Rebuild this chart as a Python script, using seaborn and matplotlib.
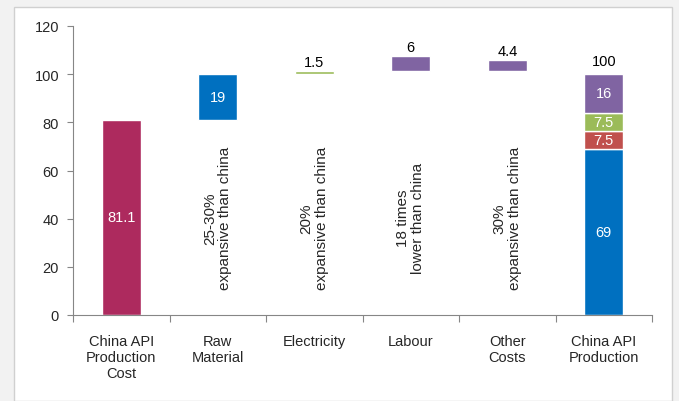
import matplotlib
matplotlib.use("Agg")
import matplotlib.pyplot as plt
import seaborn as sns
from matplotlib.patches import Rectangle

# ---- data ----
categories = ["China API\nProduction\nCost", "Raw\nMaterial", "Electricity",
              "Labour", "Other\nCosts", "China API\nProduction"]
base_value = 81.1
step_values = [19, 1.5, 6, 4.4]
step_bottoms = [81.1, 100, 101.5, 101.5]
step_labels = ["19", "1.5", "6", "4.4"]
notes = ["25-30%\nexpansive than china", "20%\nexpansive than china",
         "18 times\nlower than china", "30%\nexpansive than china"]
final_parts = [69, 7.5, 7.5, 16]
final_labels = ["69", "7.5", "7.5", "16"]
final_total_label = "100"

c_base = "#AD2A5E"
c_blue = "#0070C0"
c_red = "#C0504D"
c_green = "#9BBB59"
c_purple = "#8064A2"
step_colors = [c_blue, c_green, c_purple, c_purple]
final_colors = [c_blue, c_red, c_green, c_purple]

sns.set_theme(style="white")
plt.rcParams['font.family'] = ['Liberation Sans', 'DejaVu Sans']

fig = plt.figure(figsize=(6.79, 4.02), dpi=100)
fig.patch.set_facecolor("#f2f2f2")
frame = Rectangle((14 / 679, 0), (672 - 14) / 679, 1 - 8 / 402,
                  transform=fig.transFigure, facecolor="white",
                  edgecolor="#d0d0d0", linewidth=1.0, zorder=-10)
fig.patches.append(frame)

ax = fig.add_axes([73 / 679, 1 - 316 / 402, (652 - 73) / 679, (316 - 27) / 402])
ax.set_facecolor("none")

x = list(range(len(categories)))
w = 0.4
fs = 10.5

# first bar
ax.bar(x[0], base_value, width=w, color=c_base)
ax.text(x[0], base_value / 2, f"{base_value}", color="white", ha="center",
        va="center", fontsize=fs)

# steps
for i, (v, b, lab, col, note) in enumerate(zip(step_values, step_bottoms,
                                              step_labels, step_colors, notes)):
    xi = x[i + 1]
    ax.bar(xi, v, bottom=b, width=w, color=col)
    if i == 0:
        ax.text(xi, b + v / 2, lab, color="white", ha="center", va="center",
                fontsize=fs)
    else:
        ax.text(xi, b + v + 0.8, lab, color="black", ha="center", va="bottom",
                fontsize=fs)
    ax.text(xi, 40.5, note, rotation=90, ha="center", va="center",
            multialignment="center", fontsize=11, linespacing=1.1)

# final stacked bar
bottom = 0
for v, lab, col in zip(final_parts, final_labels, final_colors):
    ax.bar(x[-1], v, bottom=bottom, width=w, color=col)
    ax.text(x[-1], bottom + v / 2, lab, color="white", ha="center",
            va="center", fontsize=fs)
    bottom += v
ax.text(x[-1], bottom + 2.5, final_total_label, ha="center", va="bottom",
        fontsize=fs, color="black")

ax.set_xlim(-0.5, len(categories) - 0.5)
ax.set_ylim(0, 120)
ax.set_yticks(range(0, 121, 20))
ax.set_xticks(x)
ax.set_xticklabels(categories, fontsize=fs, linespacing=1.15)
ax.tick_params(axis="x", length=0, pad=14)
ax.tick_params(axis="y", length=4, width=0.8, color="#868686", left=True,
               labelsize=fs, pad=6)
# minor ticks at category boundaries
ax.set_xticks([i - 0.5 for i in range(len(categories) + 1)], minor=True)
ax.tick_params(axis="x", which="minor", length=5, width=0.8, color="#868686",
               bottom=True, direction="out")

for s in ["top", "right"]:
    ax.spines[s].set_visible(False)
for s in ["left", "bottom"]:
    ax.spines[s].set_color("#868686")
    ax.spines[s].set_linewidth(0.8)

fig.savefig("out.png", dpi=100, facecolor=fig.get_facecolor())
